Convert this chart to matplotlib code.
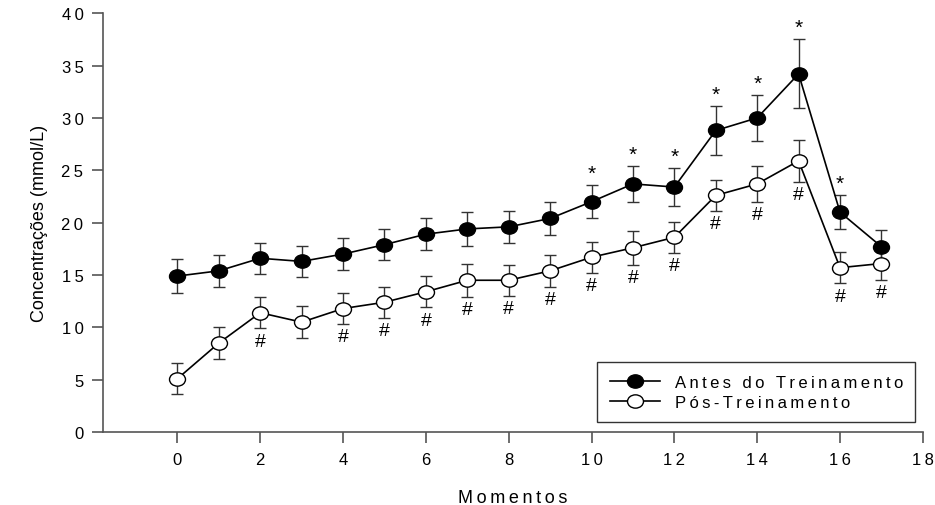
import matplotlib.pyplot as plt
from matplotlib.path import Path
from matplotlib.transforms import Affine2D

plt.rcParams['font.family'] = ['Liberation Sans', 'DejaVu Sans']

momentos = list(range(18))

antes = [14.9, 15.4, 16.6, 16.3, 17.0, 17.9, 18.9, 19.4, 19.6, 20.4,
         22.0, 23.7, 23.4, 28.8, 30.0, 34.2, 21.0, 17.7]
antes_err = [1.6, 1.5, 1.5, 1.5, 1.5, 1.5, 1.5, 1.6, 1.5, 1.6,
             1.6, 1.7, 1.8, 2.3, 2.2, 3.3, 1.6, 1.6]

pos = [5.1, 8.5, 11.4, 10.5, 11.8, 12.4, 13.4, 14.5, 14.5, 15.4,
       16.7, 17.6, 18.6, 22.6, 23.7, 25.9, 15.7, 16.1]
pos_err = [1.5, 1.5, 1.5, 1.5, 1.5, 1.5, 1.5, 1.6, 1.5, 1.5,
           1.5, 1.6, 1.5, 1.5, 1.7, 2.0, 1.5, 1.6]

# significance marks
star_idx = [10, 11, 12, 13, 14, 15, 16]
hash_idx = [2, 4, 5, 6, 7, 8, 9, 10, 11, 12, 13, 14, 15, 16, 17]

xticks = [0, 2, 4, 6, 8, 10, 12, 14, 16, 18]
yticks = [0, 5, 10, 15, 20, 25, 30, 35, 40]


def spaced(s):
    # mimic the wide letter spacing of the original
    return '\u2009'.join(s)


ellipse = Path.unit_circle().transformed(Affine2D().scale(1.2, 1.0))

fig = plt.figure(figsize=(9.35, 5.06), dpi=100)
ax = fig.add_axes([0.110, 0.144, 0.877, 0.828])

ax.errorbar(momentos, antes, yerr=antes_err, fmt='none', ecolor='#333333',
            elinewidth=1, capsize=4, capthick=1, zorder=1)
ax.errorbar(momentos, pos, yerr=pos_err, fmt='none', ecolor='#333333',
            elinewidth=1, capsize=4, capthick=1, zorder=1)

ax.plot(momentos, antes, color='black', lw=1.2, marker=ellipse, ms=11.5,
        mfc='black', mec='black', label=spaced('Antes do Treinamento'), zorder=3)
ax.plot(momentos, pos, color='black', lw=1.2, marker=ellipse, ms=11.5,
        mfc='white', mec='black', mew=1, label=spaced('Pós-Treinamento'), zorder=3)

for i in star_idx:
    ax.text(momentos[i], antes[i] + antes_err[i] + 0.2, '*', ha='center',
            va='bottom', fontsize=15, color='black')
for i in hash_idx:
    ax.text(momentos[i], pos[i] - pos_err[i] - 0.4, '#', ha='center',
            va='top', fontsize=14, color='black')

ax.set_xlim(-1.8, 18)
ax.set_ylim(0, 40)
ax.set_xticks(xticks)
ax.set_xticklabels([spaced(str(t)) for t in xticks])
ax.set_yticks(yticks)
ax.set_yticklabels([spaced(str(t)) for t in yticks])

for s in ['top', 'right']:
    ax.spines[s].set_visible(False)
for s in ['left', 'bottom']:
    ax.spines[s].set_color('#555555')
    ax.spines[s].set_linewidth(1.2)
ax.tick_params(direction='out', length=8, width=1.2, color='#555555',
               labelsize=12, pad=6)

ax.set_xlabel(spaced('Momentos'), fontsize=13, labelpad=16)
ax.set_ylabel('Concentrações (mmol/L)', fontsize=13, labelpad=10)

leg = ax.legend(loc='lower right', bbox_to_anchor=(0.991, 0.024), fontsize=12,
                frameon=True, fancybox=False, edgecolor='black',
                handlelength=3.0, handletextpad=0.9, borderpad=0.75,
                labelspacing=0.3, borderaxespad=0)
leg.get_frame().set_linewidth(1.0)

fig.savefig('out.png', dpi=100)
